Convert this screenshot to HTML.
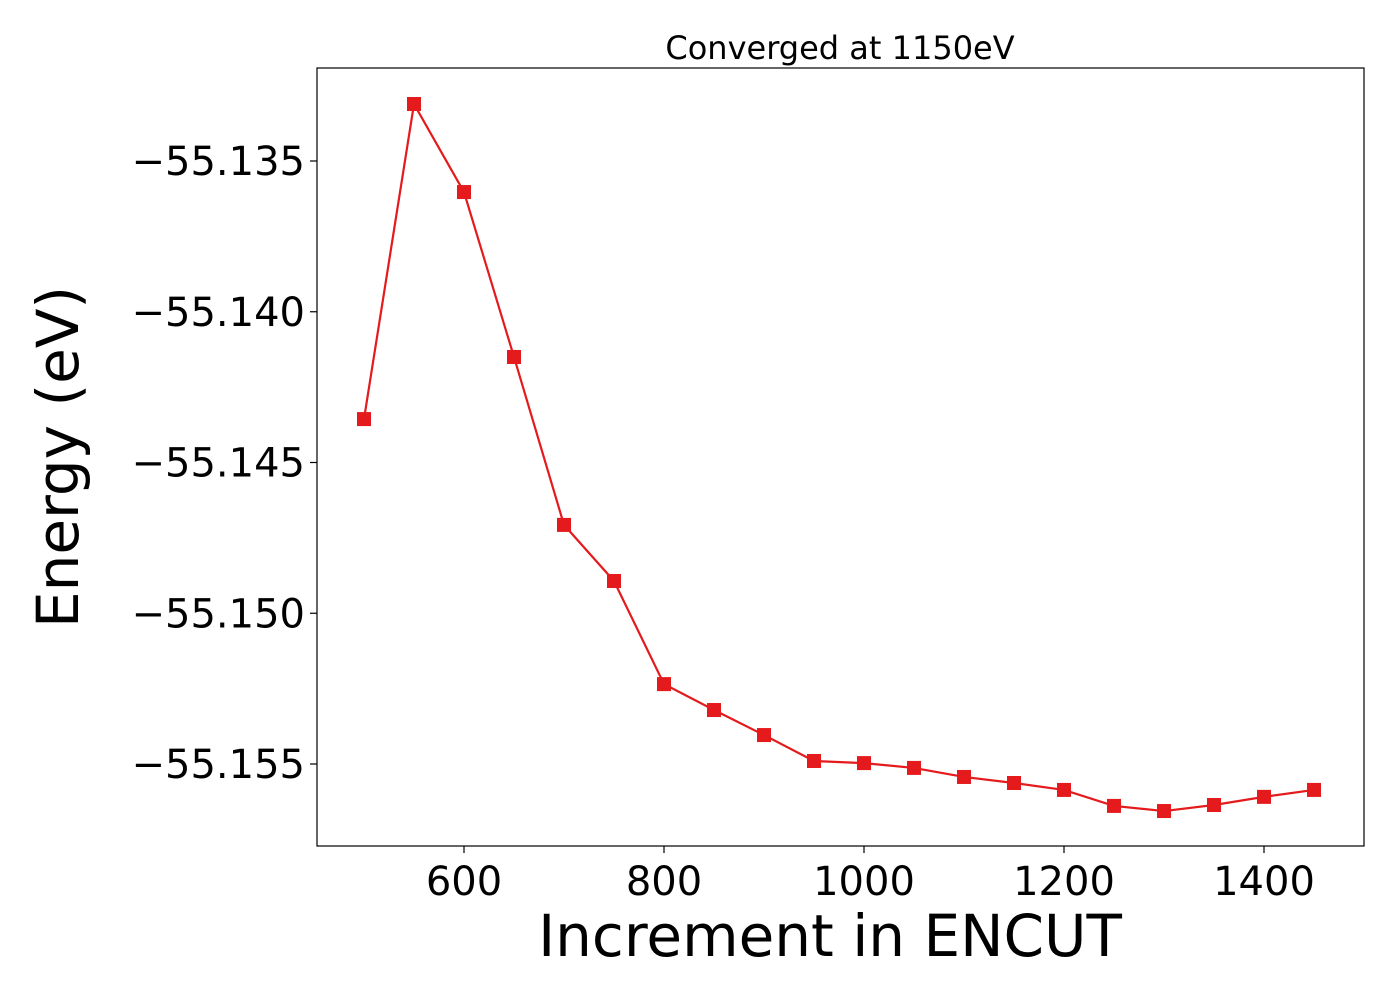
<!DOCTYPE html>
<html><head><meta charset="utf-8"><style>
body{margin:0;background:#fff;}
svg text{font-family:"DejaVu Sans","Liberation Sans",sans-serif;fill:#000;}
</style></head><body>
<svg id="chart" width="1400" height="1000"></svg>
<script>
const categories=[500,550,600,650,700,750,800,850,900,950,1000,1050,1100,1150,1200,1250,1300,1350,1400,1450];
const energies=[-55.14356,-55.13311,-55.13603,-55.1415,-55.14707,-55.14893,-55.15235,-55.15321,-55.15404,-55.1549,-55.15497,-55.15513,-55.15543,-55.15563,-55.15586,-55.15639,-55.15656,-55.15636,-55.15609,-55.15586];
const xTicks=[600,800,1000,1200,1400];
const yTicks=[-55.135,-55.140,-55.145,-55.150,-55.155];
const yTickLabels=["\u221255.135","\u221255.140","\u221255.145","\u221255.150","\u221255.155"];
const NS="http://www.w3.org/2000/svg";
const svg=document.getElementById('chart');
const L=317,R=1364,T=68,B=846;
const xs=v=>364+(v-500);
const ys=v=>161+(-55.135-v)/0.005*150.75;
function mk(t,a,p){const e=document.createElementNS(NS,t);for(const k in a)e.setAttribute(k,a[k]);(p||svg).appendChild(e);return e;}
const frame=mk('rect',{x:L,y:T,width:R-L,height:B-T,fill:'none',stroke:'#000','stroke-width':1.2});


xTicks.forEach(v=>{
  const l=mk('line',{x1:xs(v),x2:xs(v),y1:B,y2:B+7,stroke:'#000','stroke-width':1.2});
  
  
  const t=mk('text',{x:xs(v),y:B+49,'text-anchor':'middle','font-size':40});
  t.textContent=v;
  
  
});
yTicks.forEach((v,i)=>{
  const l=mk('line',{x1:L-7,x2:L,y1:ys(v),y2:ys(v),stroke:'#000','stroke-width':1.2});
  
  
  const t=mk('text',{x:L-12,y:ys(v)+14,'text-anchor':'end','font-size':40});
  t.textContent=yTickLabels[i];
  
  
});
const line=mk('polyline',{points:categories.map((c,i)=>xs(c)+','+ys(energies[i])).join(' '),fill:'none',stroke:'#e41a1c','stroke-width':2.2});


categories.forEach((c,i)=>{
  const r=mk('rect',{x:xs(c)-7,y:ys(energies[i])-7,width:14,height:14,fill:'#e41a1c'});
  
  
});
const title=mk('text',{x:840,y:59,'text-anchor':'middle','font-size':32});
title.textContent='Converged at 1150eV';


const xl=mk('text',{x:830,y:956,'text-anchor':'middle','font-size':58});
xl.textContent='Increment in ENCUT';


const yl=mk('text',{x:0,y:0,'text-anchor':'middle','font-size':58,transform:'translate(78,457) rotate(-90)'});
yl.textContent='Energy (eV)';


</script>
</body></html>
